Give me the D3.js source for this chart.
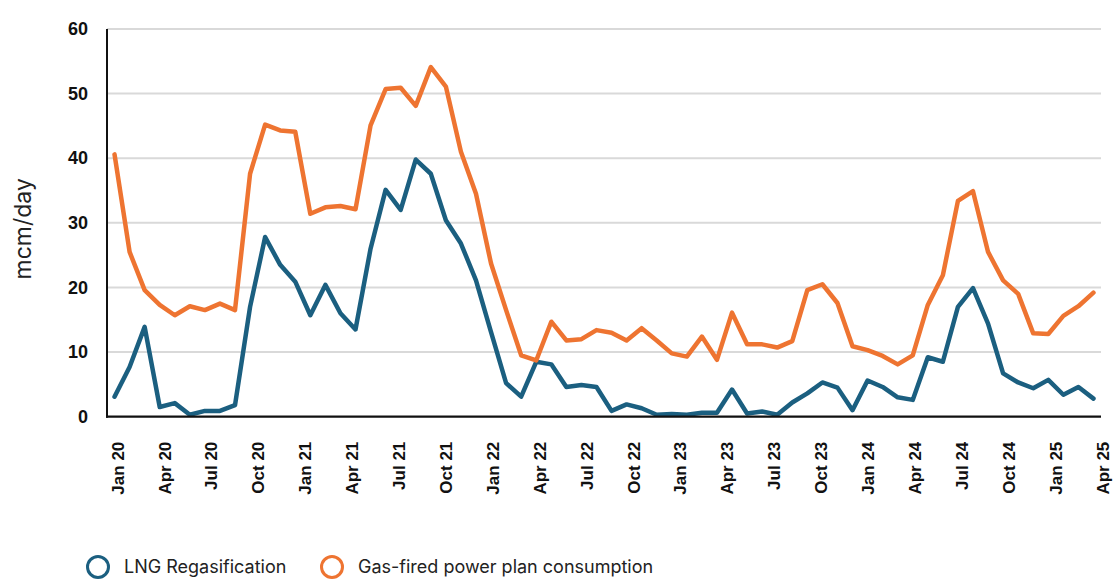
<!DOCTYPE html>
<html>
<head>
<meta charset="utf-8">
<script src="https://cdn.jsdelivr.net/npm/d3@7"></script>
<style>
  html, body { margin: 0; padding: 0; background: #ffffff; }
  svg { display: block; }
</style>
</head>
<body>
<svg id="chart" width="1113" height="579"></svg>
<script>
// ---- data ----
const months = d3.timeMonth.range(new Date(2020, 0, 1), new Date(2025, 6, 1)); // 66 monthly points
const lngRegas = [3.1,7.7,13.9,1.5,2.1,0.3,0.9,0.9,1.8,17.0,
  27.8,23.5,20.9,15.7,20.4,16.0,13.5,26.0,35.1,32.0,
  39.8,37.6,30.4,26.8,21.1,13.1,5.2,3.1,8.5,8.1,
  4.6,4.9,4.6,0.9,1.9,1.3,0.3,0.4,0.3,0.6,
  0.6,4.2,0.5,0.8,0.3,2.2,3.6,5.3,4.5,1.0,
  5.6,4.6,3.0,2.6,9.2,8.5,17.0,19.9,14.4,6.7,
  5.3,4.4,5.7,3.4,4.6,2.8];
const gasPower = [40.6,25.5,19.6,17.3,15.7,17.1,16.5,17.5,16.5,37.6,
  45.2,44.3,44.1,31.4,32.4,32.6,32.1,45.1,50.7,50.9,
  48.1,54.1,51.1,41.0,34.5,23.7,16.5,9.5,8.7,14.7,
  11.8,12.0,13.4,13.0,11.8,13.7,11.8,9.8,9.3,12.4,
  8.8,16.1,11.2,11.2,10.7,11.7,19.6,20.5,17.6,10.9,
  10.3,9.4,8.1,9.5,17.3,21.9,33.4,34.9,25.5,21.1,
  19.0,12.9,12.8,15.6,17.1,19.2];
const xTickLabels = ["Jan 20","Apr 20","Jul 20","Oct 20","Jan 21","Apr 21","Jul 21","Oct 21",
  "Jan 22","Apr 22","Jul 22","Oct 22","Jan 23","Apr 23","Jul 23","Oct 23",
  "Jan 24","Apr 24","Jul 24","Oct 24","Jan 25","Apr 25"];
const yTicks = [0,10,20,30,40,50,60];
const seriesNames = ["LNG Regasification", "Gas-fired power plan consumption"];
const colors = ["#1b5f80", "#ee7431"];

// ---- layout ----
const svg = d3.select("#chart");
const pLeft = 107, pRight = 1101, pTop = 29, pBottom = 416.7;

const x = d3.scalePoint().domain(d3.range(months.length)).range([pLeft, pRight]).padding(0.5);
const xLab = d3.scalePoint().domain(xTickLabels).range([117, 1102]);
const y = d3.scaleLinear().domain([0, 60]).range([pBottom, pTop]);

// gridlines
svg.append("g")
  .selectAll("line")
  .data(yTicks.filter(d => d > 0))
  .join("line")
  .attr("x1", pLeft).attr("x2", pRight)
  .attr("y1", d => y(d)).attr("y2", d => y(d))
  .attr("stroke", "#d9d9d9").attr("stroke-width", 2);

// y axis labels
const yAxis = svg.append("g")
  .attr("transform", `translate(${pLeft},0)`)
  .call(d3.axisLeft(y).tickValues(yTicks).tickSize(0).tickPadding(19));
yAxis.select(".domain").remove();
yAxis.selectAll("text")
  .attr("font-family", "'Liberation Sans', Arial, sans-serif")
  .attr("font-size", 18).attr("font-weight", "bold").attr("fill", "#111");

// x axis labels
const xAxis = svg.append("g")
  .attr("transform", `translate(0,${pBottom})`)
  .call(d3.axisBottom(xLab).tickSize(0));
xAxis.select(".domain").remove();
xAxis.selectAll("text")
  .attr("transform", "rotate(-90)")
  .attr("x", -25).attr("y", 0).attr("dy", "0.36em")
  .attr("text-anchor", "end")
  .attr("font-family", "'Liberation Sans', Arial, sans-serif")
  .attr("font-size", 17).attr("font-weight", "bold").attr("fill", "#111");

// lines
const line = d3.line().x((d, i) => x(i)).y(d => y(d)).curve(d3.curveLinear);
[lngRegas, gasPower].forEach((s, k) => {
  svg.append("path")
    .datum(s)
    .attr("fill", "none")
    .attr("stroke", colors[k])
    .attr("stroke-width", 4.5)
    .attr("stroke-linejoin", "round")
    .attr("stroke-linecap", "round")
    .attr("d", line);
});

// axis lines
svg.append("line").attr("x1", pLeft).attr("x2", pLeft).attr("y1", pTop).attr("y2", pBottom + 1)
  .attr("stroke", "#111").attr("stroke-width", 2);
svg.append("line").attr("x1", pLeft - 1).attr("x2", pRight).attr("y1", pBottom).attr("y2", pBottom)
  .attr("stroke", "#111").attr("stroke-width", 2.2);

// y title
svg.append("text")
  .attr("transform", `translate(31,${(pTop + pBottom) / 2 + 6}) rotate(-90)`)
  .attr("text-anchor", "middle")
  .attr("font-family", "Inter, 'Noto Sans', sans-serif")
  .attr("font-size", 23).attr("fill", "#222")
  .text("mcm/day");

// legend
const legendX = [98, 332];
const lg = svg.append("g");
seriesNames.forEach((name, k) => {
  lg.append("circle").attr("cx", legendX[k]).attr("cy", 567).attr("r", 10.5)
    .attr("fill", "none").attr("stroke", colors[k]).attr("stroke-width", 3);
  lg.append("text").attr("x", legendX[k] + 26).attr("y", 573)
    .attr("font-family", "Inter, 'Noto Sans', sans-serif")
    .attr("font-size", 18).attr("fill", "#222")
    .text(name);
});
</script>
</body>
</html>
